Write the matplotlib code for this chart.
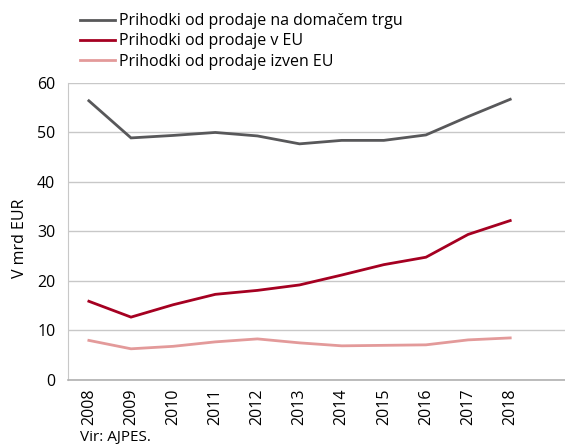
import matplotlib
matplotlib.use("Agg")
from matplotlib import pyplot as plt
from matplotlib.lines import Line2D

plt.rcParams['font.family'] = ['Open Sans', 'DejaVu Sans']

years = [2008, 2009, 2010, 2011, 2012, 2013, 2014, 2015, 2016, 2017, 2018]
domestic = [56.4, 48.9, 49.4, 50.0, 49.3, 47.7, 48.4, 48.4, 49.5, 53.2, 56.7]
eu = [15.9, 12.7, 15.2, 17.3, 18.1, 19.2, 21.2, 23.3, 24.8, 29.4, 32.2]
non_eu = [8.0, 6.3, 6.8, 7.7, 8.3, 7.5, 6.9, 7.0, 7.1, 8.1, 8.5]

labels = [
    'Prihodki od prodaje na domačem trgu',
    'Prihodki od prodaje v EU',
    'Prihodki od prodaje izven EU',
]
colors = ['#58585a', '#a50021', '#e39a9a']
FS = 11.5

fig = plt.figure(figsize=(5.65, 4.46), dpi=100)
ax = fig.add_axes([0.120, 0.148, 0.880, 0.666])

for vals, c in zip([domestic, eu, non_eu], colors):
    ax.plot(years, vals, color=c, linewidth=2.0, solid_joinstyle='miter')

ax.set_ylim(0, 60)
ax.set_yticks(range(0, 61, 10))
ax.set_xlim(2007.5, 2019.3)
ax.set_xticks(years)
ax.set_xticklabels([str(y) for y in years], rotation=90, fontsize=FS)
ax.tick_params(axis='y', labelsize=FS, length=0, pad=9)
ax.tick_params(axis='x', length=0, pad=6)
ax.grid(axis='y', color='#c8c8c8', linewidth=1.0)
ax.set_axisbelow(True)
for s in ['top', 'right']:
    ax.spines[s].set_visible(False)
ax.spines['left'].set_color('#c8c8c8')
ax.spines['bottom'].set_color('#b0b0b0')
ax.spines['bottom'].set_linewidth(1.2)

ax.set_ylabel('V mrd EUR', fontsize=FS)
ax.yaxis.set_label_coords(-0.08, 0.478)

handles = [Line2D([], [], color=c, linewidth=2.0) for c in colors]
fig.legend(handles, labels, loc='upper left', bbox_to_anchor=(0.125, 0.992),
           frameon=False, fontsize=FS, handlelength=2.15, handletextpad=0.3,
           labelspacing=0.27, borderaxespad=0.2)

fig.text(0.142, 0.003, 'Vir: AJPES.', fontsize=FS - 0.5, ha='left', va='bottom')

fig.savefig('out.png', dpi=100)
